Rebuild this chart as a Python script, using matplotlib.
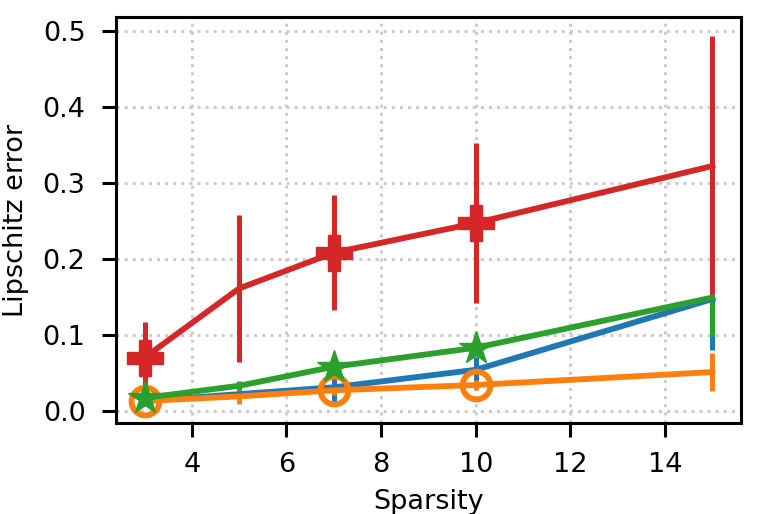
import matplotlib
matplotlib.use('Agg')
import matplotlib.pyplot as plt
import numpy as np

sparsity = [3, 5, 7, 10, 15]
marker_idx = [0, 2, 3]  # markers only at 3, 7, 10

blue_mean = [0.013, 0.022, 0.031, 0.054, 0.147]
blue_err = [0.006, 0.008, 0.020, 0.017, 0.067]

orange_mean = [0.013, 0.019, 0.027, 0.034, 0.051]
orange_err = [0.004, 0.010, 0.006, 0.007, 0.025]

green_mean = [0.017, 0.033, 0.058, 0.083, 0.149]
green_err = [0.006, 0.006, 0.007, 0.010, 0.050]

red_mean = [0.070, 0.161, 0.208, 0.247, 0.322]
red_err = [0.047, 0.097, 0.076, 0.105, 0.171]

fig = plt.figure(figsize=(7.59, 5.14), dpi=100)
ax = fig.add_axes([0.153, 0.177, 0.823, 0.790])

lw = 4.2
elw = 3.6
ax.errorbar(sparsity, blue_mean, yerr=blue_err, color='#1f77b4', lw=lw, elinewidth=elw)
ax.errorbar(sparsity, orange_mean, yerr=orange_err, color='#ff7f0e', lw=lw, elinewidth=elw,
            marker='o', markersize=20, markerfacecolor='none', markeredgewidth=4.2,
            markevery=marker_idx)
ax.errorbar(sparsity, green_mean, yerr=green_err, color='#2ca02c', lw=lw, elinewidth=elw,
            marker='*', markersize=25, markevery=marker_idx)
ax.errorbar(sparsity, red_mean, yerr=red_err, color='#d62728', lw=lw, elinewidth=elw,
            marker='P', markersize=26, markevery=marker_idx)

ax.set_xlim(2.4, 15.6)
ax.set_ylim(-0.016, 0.518)
ax.set_xticks([4, 6, 8, 10, 12, 14])
ax.set_yticks([0.0, 0.1, 0.2, 0.3, 0.4, 0.5])
ax.set_yticklabels(['0.0', '0.1', '0.2', '0.3', '0.4', '0.5'])
ax.grid(True, linestyle=':', color='#cccccc', linewidth=2.2)
ax.set_axisbelow(True)

for s in ax.spines.values():
    s.set_linewidth(2.2)
ax.tick_params(axis='both', length=10, width=2.2)
ax.tick_params(axis='y', labelsize=19.5, pad=12)
ax.tick_params(axis='x', labelsize=19.5, pad=11)

ax.set_xlabel('Sparsity', fontsize=19.5, labelpad=8)
ax.set_ylabel('Lipschitz error', fontsize=19.5, labelpad=10)

fig.savefig('out.png', dpi=100)
